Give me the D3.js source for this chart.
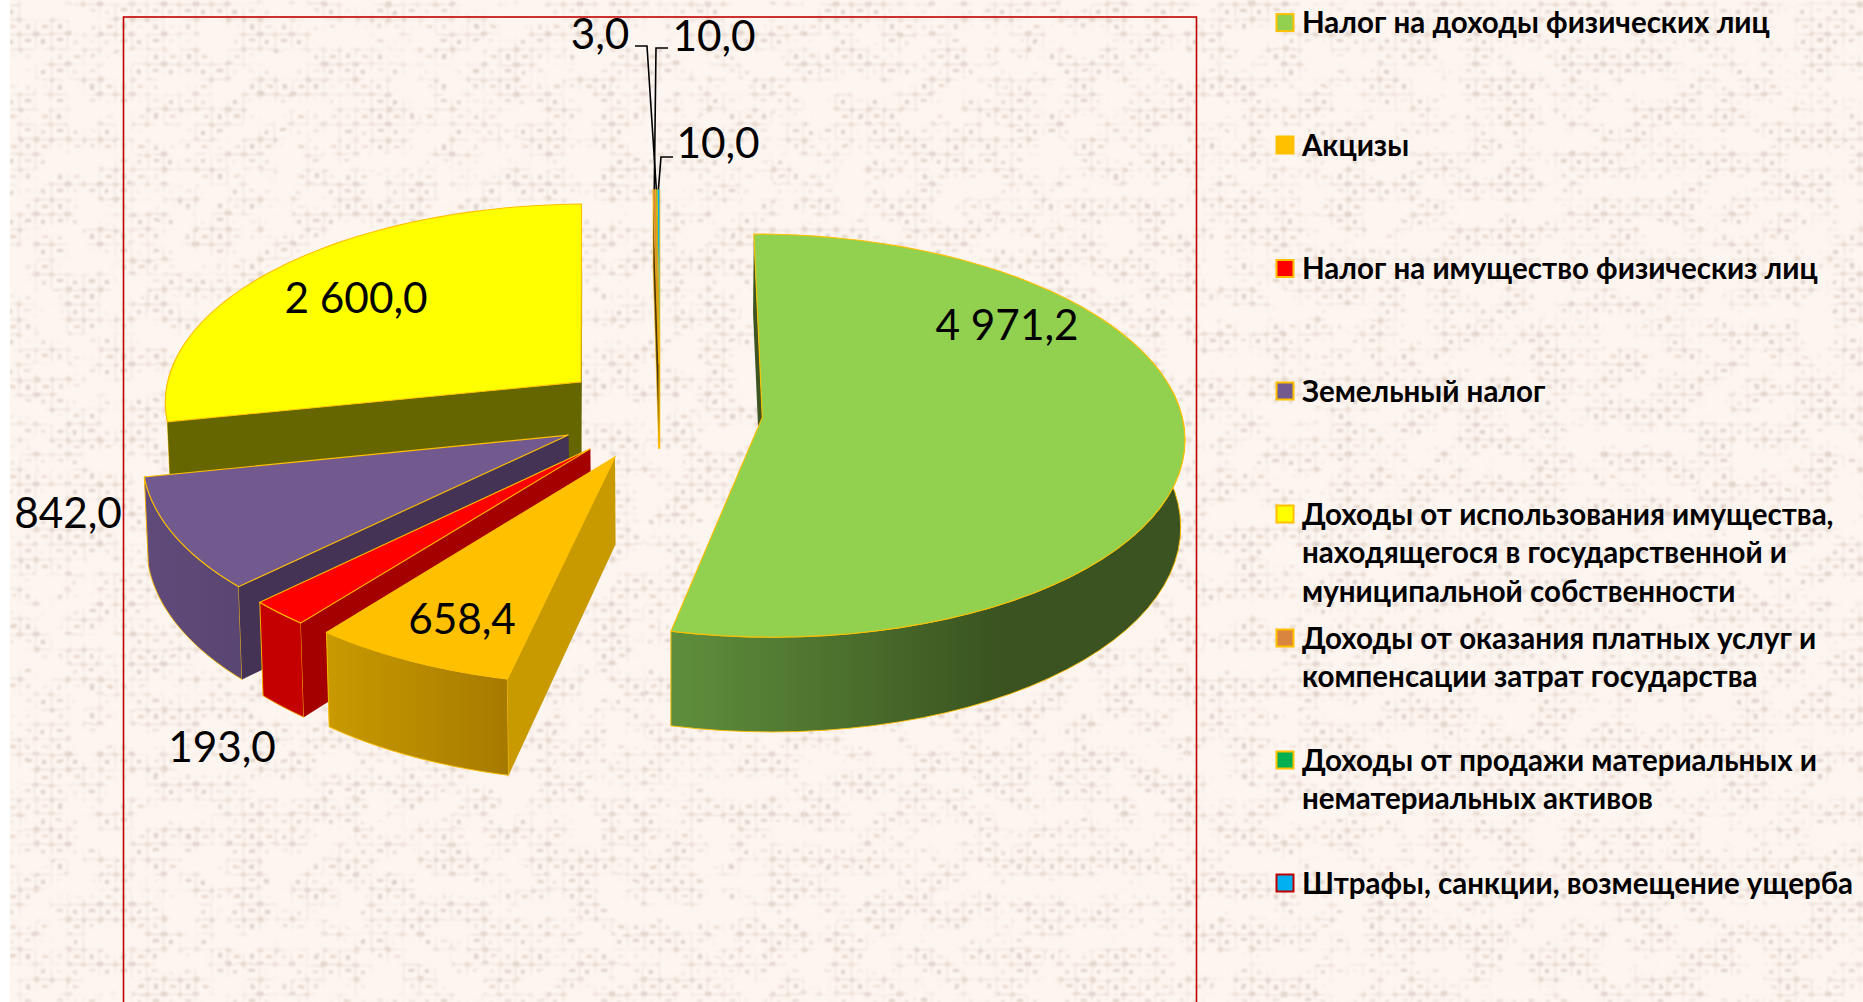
<!DOCTYPE html>
<html>
<head>
<meta charset="utf-8">
<script src="https://d3js.org/d3.v7.min.js"></script>
<style>
  html, body { margin: 0; padding: 0; background: #fff; overflow: hidden; }
  text { font-family: Lato, "Open Sans", sans-serif; fill: #000; }
</style>
</head>
<body>
<div id="chart"></div>
<script>
// data
var categories = [
    "Налог на доходы физических лиц",
    "Акцизы",
    "Налог на имущество физическиз лиц",
    "Земельный налог",
    "Доходы от использования имущества, находящегося в государственной и муниципальной собственности",
    "Доходы от оказания платных услуг и компенсации затрат государства",
    "Доходы от продажи материальных и нематериальных активов",
    "Штрафы, санкции, возмещение ущерба"
];
var values = [4971.2, 658.4, 193.0, 842.0, 2600.0, 10.0, 3.0, 10.0];
var valueLabels = ["4 971,2", "658,4", "193,0", "842,0", "2 600,0", "10,0", "3,0", "10,0"];

var legendLines = [
    ["Налог на доходы физических лиц"],
    ["Акцизы"],
    ["Налог на имущество физическиз лиц"],
    ["Земельный налог"],
    ["Доходы от использования имущества,", "находящегося в государственной и", "муниципальной собственности"],
    ["Доходы от оказания платных услуг и", "компенсации затрат государства"],
    ["Доходы от продажи материальных и", "нематериальных активов"],
    ["Штрафы, санкции, возмещение ущерба"]
];

var topColors = ["#92d050", "#ffc000", "#ff0000", "#725a8e", "#ffff00", "#d9853f", "#00b050", "#00b0f0"];
var sideColors = ["#3c5522", "#c99a00", "#a50000", "#443355", "#666600", "#4a3510", "#4a3510", "#4a3510"];
var rimFrom = ["#5f8f3c", "#c99a00", "#c40000", "#604a7a", "#666600", "#8a5020", "#006a30", "#006a90"];
var rimTo = ["#3a5320", "#a67a00", "#c40000", "#5a4672", "#666600", "#8a5020", "#006a30", "#006a90"];
var legendStroke = ["#ffc000", "#ffc000", "#ffc000", "#ffc000", "#ffc000", "#ffc000", "#ffc000", "#c00000"];

var width = 1863, height = 1002;

// pie layout
var cx = 660, cy = 412, R = 419, Ry = 199, persp = 0.09, explode = 0.245, depth = 86, shrink = 0.008;
var fontLabel = 42.3, fontLegend = 29.5;

// label spots, as placed by hand in the original
var labelSpots = [[1007, 323], [462, 617], [222, 745], [68, 511], [356, 296], [714, 34], [600, 32], [718, 141]];
var legendY = [21.5, 144, 267.5, 390, 513, 637, 759, 882];
var markerY = [22.6, 145, 268.5, 391, 514, 638, 760, 883];
var legendLineGap = 38.8;

var xScale = d3.scaleLinear().domain([-1, 1]).range([cx - R, cx + R]);
var yScale = d3.scaleLinear().domain([-1, 1]).range([cy - Ry, cy + Ry]);

function project(X, Y, z) {
    var s = 1 / (1 - persp * Y);
    var k = 1 - shrink * z;
    return [
        cx + (xScale(X) - cx) * s * k,
        cy + (yScale(Y) - cy) * s + depth * s * z
    ];
}

var arcs = d3.pie().sort(null).value(function (d) { return d; })(values);

var slices = arcs.map(function (a, i) {
    var mid = (a.startAngle + a.endAngle) / 2;
    var ox = explode * Math.sin(mid), oy = -explode * Math.cos(mid);
    return {
        i: i, a0: a.startAngle, a1: a.endAngle, mid: mid, ox: ox, oy: oy,
        at: function (r, ang, z) { return project(ox + r * Math.sin(ang), oy - r * Math.cos(ang), z); }
    };
});

var line = d3.line();

var svg = d3.select("#chart").append("svg")
    .attr("width", width).attr("height", height)
    .style("display", "block");

var defs = svg.append("defs");

// burlap-ish background: thread crossings thinned out by noise, bent a little, then blurred
var weave = defs.append("pattern").attr("id", "weave")
    .attr("patternUnits", "userSpaceOnUse").attr("width", 32).attr("height", 30);
[[1, 2, 6, 4, "#8d7468"], [17, 3, 5, 3, "#b78a68"], [9, 10, 4, 4, "#9c8a7c"], [25, 9, 6, 3, "#a5917f"],
 [2, 17, 5, 5, "#ae8f78"], [18, 18, 4, 4, "#8d7f78"], [10, 25, 6, 3, "#bb9a7e"], [26, 24, 4, 5, "#a08d80"],
 [0, 4, 32, 1, "#bfa894"], [0, 19, 32, 1, "#bfa894"], [3, 0, 1, 30, "#c4b3a5"], [19, 0, 1, 30, "#c4b3a5"]].forEach(function (t) {
    weave.append("rect").attr("x", t[0]).attr("y", t[1]).attr("width", t[2]).attr("height", t[3]).attr("fill", t[4]);
});

var tex = defs.append("filter").attr("id", "burlap")
    .attr("x", 0).attr("y", 0).attr("width", 1).attr("height", 1);
tex.append("feTurbulence").attr("type", "fractalNoise").attr("baseFrequency", "0.03 0.04")
    .attr("numOctaves", 4).attr("seed", 11).attr("result", "n");
tex.append("feDisplacementMap").attr("in", "SourceGraphic").attr("in2", "n").attr("scale", 3)
    .attr("xChannelSelector", "G").attr("yChannelSelector", "B").attr("result", "d");
tex.append("feColorMatrix").attr("in", "n").attr("type", "matrix")
    .attr("values", "0 0 0 0 0  0 0 0 0 0  0 0 0 0 0  6 0 0 0 -2.5").attr("result", "m");
tex.append("feComposite").attr("in", "d").attr("in2", "m").attr("operator", "in").attr("result", "c");
tex.append("feGaussianBlur").attr("in", "c").attr("stdDeviation", 1.3);

svg.append("rect").attr("x", 10).attr("y", 0).attr("width", width - 10).attr("height", height).attr("fill", "#fdf5f0");
svg.append("rect").attr("x", 10).attr("y", 0).attr("width", width - 10).attr("height", height)
    .attr("fill", "url(#weave)").attr("filter", "url(#burlap)").attr("opacity", 0.34);

// frame
svg.append("rect").attr("x", 123.5).attr("y", 17).attr("width", 1073).attr("height", height + 20)
    .attr("fill", "none").attr("stroke", "#c00000").attr("stroke-width", 1.6);

// rim gradients
slices.forEach(function (s) {
    var p0 = s.at(1, s.a0, 0), p1 = s.at(1, s.a1, 0);
    var g = defs.append("linearGradient").attr("id", "rim" + s.i)
        .attr("gradientUnits", "userSpaceOnUse")
        .attr("x1", p1[0]).attr("x2", s.i === 0 ? p1[0] + 330 : p0[0])
        .attr("y1", 0).attr("y2", 0);
    g.append("stop").attr("offset", 0).attr("stop-color", rimFrom[s.i]);
    g.append("stop").attr("offset", 1).attr("stop-color", rimTo[s.i]);
});

// back to front
var order = slices.slice().sort(function (a, b) { return a.oy - b.oy; });
var pieG = svg.append("g");

order.forEach(function (s) {
    var g = pieG.append("g");
    var thin = s.i >= 5;
    var angles = d3.range(0, 61).map(function (k) { return s.a0 + (s.a1 - s.a0) * k / 60; });
    var front = angles.filter(function (a) { return Math.cos(a) < 0.2; });
    var apexTop = project(s.ox, s.oy, 0), apexBot = project(s.ox, s.oy, 1);

    function side(ang) {
        g.append("path")
            .attr("d", line([apexTop, s.at(1, ang, 0), s.at(1, ang, 1), apexBot]) + "Z")
            .attr("fill", sideColors[s.i])
            .attr("stroke", thin ? "#ffc000" : "none").attr("stroke-width", 0.6);
    }

    // the end side looks away from us, the start side towards us
    side(s.a1);

    if (front.length > 1) {
        var rim = front.map(function (a) { return s.at(1, a, 0); })
            .concat(front.slice().reverse().map(function (a) { return s.at(1, a, 1); }));
        g.append("path")
            .attr("d", line(rim) + "Z")
            .attr("fill", "url(#rim" + s.i + ")")
            .attr("stroke", "#ffc000").attr("stroke-width", 0.9);
    }

    side(s.a0);

    // top
    var top = [apexTop].concat(angles.map(function (a) { return s.at(1, a, 0); }));
    g.append("path")
        .attr("d", line(top) + "Z")
        .attr("fill", topColors[s.i])
        .attr("stroke", "#ffc000").attr("stroke-width", thin ? 0.4 : 1.1);
});

// leader lines for the three thin slices: [slice, label end x, y, elbow x]
var leaders = [[6, 635, 46, 647], [5, 668, 48, 656], [7, 673, 157, 661]];
leaders.forEach(function (l) {
    var s = slices[l[0]];
    var tip = s.at(1, s.mid, 0);
    svg.append("path")
        .attr("d", line([[l[1], l[2]], [l[3], l[2]], tip]))
        .attr("fill", "none").attr("stroke", "#000").attr("stroke-width", 1.6);
});

// value labels
svg.selectAll("text.value").data(valueLabels).enter().append("text")
    .attr("class", "value")
    .attr("x", function (d, i) { return labelSpots[i][0]; })
    .attr("y", function (d, i) { return labelSpots[i][1]; })
    .attr("text-anchor", "middle")
    .attr("dominant-baseline", "central")
    .style("font-size", fontLabel + "px")
    .text(function (d) { return d; });

// legend
var legend = svg.selectAll("g.legend").data(categories).enter().append("g").attr("class", "legend");
legend.append("rect")
    .attr("x", 1276.5)
    .attr("y", function (d, i) { return markerY[i] - 8.5; })
    .attr("width", 17).attr("height", 17)
    .attr("fill", function (d, i) { return topColors[i]; })
    .attr("stroke", function (d, i) { return legendStroke[i]; })
    .attr("stroke-width", 2);
legend.each(function (d, i) {
    d3.select(this).selectAll("text").data(legendLines[i]).enter().append("text")
        .attr("x", 1302)
        .attr("y", function (t, k) { return legendY[i] + k * legendLineGap; })
        .attr("dominant-baseline", "central")
        .style("font-size", fontLegend + "px")
        .style("font-weight", 700)
        .text(function (t) { return t; });
});
</script>
</body>
</html>
